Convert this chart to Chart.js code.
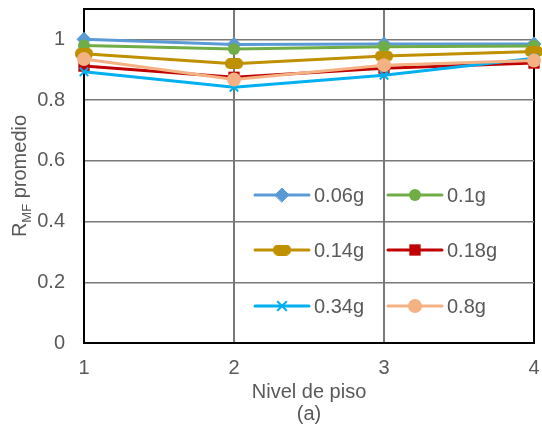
<!DOCTYPE html>
<html>
<head>
<meta charset="utf-8">
<script src="https://cdn.jsdelivr.net/npm/chart.js@4.4.1/dist/chart.umd.min.js"></script>
<style>
  html, body { margin: 0; padding: 0; background: #fff; }
  #wrap { width: 542px; height: 429px; }
</style>
</head>
<body>
<div id="wrap"><canvas id="line-chart" width="542" height="429"></canvas></div>
<script>
// datos
var niveles = [1, 2, 3, 4];
var xTickLabels = ['1', '2', '3', '4'];
var yTicks = [0, 0.2, 0.4, 0.6, 0.8, 1];
var yTickLabels = ['0', '0.2', '0.4', '0.6', '0.8', '1'];
var yMax = 1.1;

var seriesNames = ['0.06g', '0.1g', '0.14g', '0.18g', '0.34g', '0.8g'];
var r006 = [1.000, 0.983, 0.985, 0.985];
var r01  = [0.980, 0.968, 0.976, 0.978];
var r014 = [0.953, 0.920, 0.945, 0.960];
var r018 = [0.912, 0.875, 0.905, 0.922];
var r034 = [0.893, 0.842, 0.882, 0.938];
var r08  = [0.935, 0.868, 0.915, 0.930];

var txt = '#595959';
var font = 'Arial, "Liberation Sans", sans-serif';

// marcador ovalado para 0.14g
function ovalMarker(color) {
    var c = document.createElement('canvas');
    c.width = 18; c.height = 11;
    var g = c.getContext('2d');
    g.fillStyle = color;
    g.beginPath();
    g.roundRect(0, 0, 18, 11, 5);
    g.fill();
    return c;
}

var styles = [
    { color: '#5B9BD5', pointStyle: 'rectRot', radius: 7, bw: 1 },
    { color: '#70AD47', pointStyle: 'circle', radius: 6, bw: 0 },
    { color: '#BF9000', pointStyle: ovalMarker('#BF9000'), radius: 6, bw: 0 },
    { color: '#C00000', pointStyle: 'rect', radius: 8, bw: 0 },
    { color: '#00B0F0', pointStyle: 'crossRot', radius: 6, bw: 2 },
    { color: '#F4B183', pointStyle: 'circle', radius: 7, bw: 0 }
];

var allSeries = [r006, r01, r014, r018, r034, r08];

function makeDatasets() {
    return allSeries.map(function (vals, i) {
        var s = styles[i];
        return {
            label: seriesNames[i],
            data: niveles.map(function (n, j) { return { x: n, y: vals[j] }; }),
            borderColor: s.color,
            backgroundColor: s.color,
            borderWidth: 3,
            pointStyle: s.pointStyle,
            pointRadius: s.radius,
            pointBackgroundColor: s.color,
            pointBorderColor: s.color,
            pointBorderWidth: s.bw,
            tension: 0,
            clip: false,
            order: allSeries.length - i
        };
    });
}

// leyenda dentro del grafico (2 columnas)
var legendPlugin = {
    id: 'gridLegend',
    afterDatasetsDraw: function (chart) {
        var ctx = chart.ctx;
        var cols = [255, 388];
        var rows = [195, 250, 306];
        ctx.save();
        for (var i = 0; i < seriesNames.length; i++) {
            var s = styles[i];
            var x0 = cols[i % 2], y = rows[Math.floor(i / 2)];
            ctx.strokeStyle = s.color;
            ctx.lineWidth = 3;
            ctx.lineCap = 'round';
            ctx.beginPath();
            ctx.moveTo(x0, y);
            ctx.lineTo(x0 + 54, y);
            ctx.stroke();
            ctx.fillStyle = s.color;
            ctx.lineWidth = s.bw;
            Chart.helpers.drawPoint(ctx, {
                pointStyle: s.pointStyle, radius: s.radius, rotation: 0, borderWidth: s.bw
            }, x0 + 27, y);
            ctx.fillStyle = txt;
            ctx.font = '20px ' + font;
            ctx.textBaseline = 'middle';
            ctx.textAlign = 'left';
            ctx.fillText(seriesNames[i], x0 + 59, y + 1);
        }
        ctx.restore();
    }
};

// titulo del eje Y con subindice
var yTitlePlugin = {
    id: 'yTitle',
    afterDraw: function (chart) {
        var ctx = chart.ctx;
        var area = chart.chartArea;
        var cy = (area.top + area.bottom) / 2;
        ctx.save();
        ctx.fillStyle = txt;
        ctx.textBaseline = 'alphabetic';
        ctx.textAlign = 'left';
        var big = '20px ' + font, small = '13px ' + font;
        ctx.font = big; var w1 = ctx.measureText('R').width;
        var w3 = ctx.measureText(' promedio').width;
        ctx.font = small; var w2 = ctx.measureText('MF').width;
        var total = w1 + w2 + w3;
        ctx.translate(26, cy);
        ctx.rotate(-Math.PI / 2);
        var x = -total / 2;
        ctx.font = big; ctx.fillText('R', x, 0); x += w1;
        ctx.font = small; ctx.fillText('MF', x, 5); x += w2;
        ctx.font = big; ctx.fillText(' promedio', x, 0);
        ctx.restore();
    }
};

function edgeColor(v, lo, hi) {
    return (v === lo || v === hi) ? '#000000' : '#787878';
}

function createLineChart() {
    var ctx = document.getElementById('line-chart');
    return new Chart(ctx, {
        type: 'line',
        data: { datasets: makeDatasets() },
        options: {
            responsive: false,
            animation: false,
            layout: { padding: { left: 37, right: 4, top: 9, bottom: 4 } },
            plugins: { legend: { display: false }, tooltip: { enabled: false } },
            scales: {
                x: {
                    type: 'linear',
                    min: 1,
                    max: 4,
                    afterBuildTicks: function (scale) {
                        scale.ticks = niveles.map(function (v) { return { value: v }; });
                    },
                    afterFit: function (scale) {
                        scale.height = 82;
                        scale.paddingLeft = 0;
                        scale.paddingRight = 0;
                    },
                    ticks: {
                        color: txt,
                        font: { family: font, size: 20 },
                        padding: 13,
                        maxRotation: 0,
                        callback: function (v) { return xTickLabels[niveles.indexOf(v)]; }
                    },
                    grid: {
                        drawTicks: false,
                        color: function (c) { return edgeColor(c.tick && c.tick.value, 1, 4); },
                        lineWidth: 2
                    },
                    border: { display: true, color: '#000000', width: 2 },
                    title: {
                        display: true,
                        text: ['Nivel de piso', '(a)'],
                        color: txt,
                        font: { family: font, size: 20, lineHeight: 1.1 },
                        padding: { top: 0, bottom: 0 }
                    }
                },
                y: {
                    min: 0,
                    max: yMax,
                    afterBuildTicks: function (scale) {
                        scale.ticks = yTicks.concat([yMax]).map(function (v) { return { value: v }; });
                    },
                    afterFit: function (scale) {
                        scale.width = 47;
                        scale.paddingTop = 0;
                        scale.paddingBottom = 0;
                    },
                    ticks: {
                        color: txt,
                        padding: 19,
                        font: function (c) {
                            return (c.tick && c.tick.value === yMax) ? { family: font, size: 1 } : { family: font, size: 20 };
                        },
                        callback: function (v) {
                            var k = yTicks.indexOf(v);
                            return k >= 0 ? yTickLabels[k] : '';
                        }
                    },
                    grid: {
                        drawTicks: false,
                        color: function (c) { return edgeColor(c.tick && c.tick.value, 0, yMax); },
                        lineWidth: function (c) { var v = c.tick && c.tick.value; return (v === 0 || v === yMax) ? 2 : 1.5; }
                    },
                    border: { display: true, color: '#000000', width: 2 }
                }
            }
        },
        plugins: [legendPlugin, yTitlePlugin]
    });
}

createLineChart();
</script>
</body>
</html>
